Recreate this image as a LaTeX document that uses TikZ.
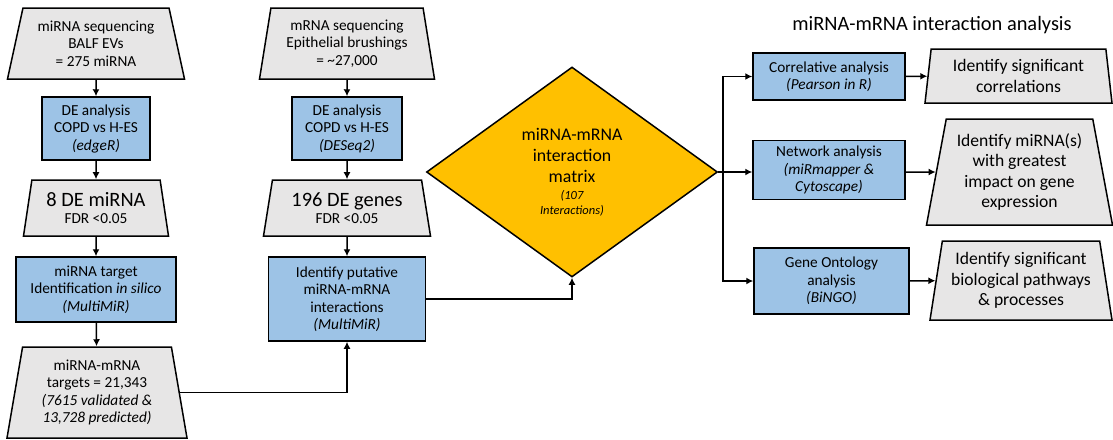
\documentclass[tikz,border=0pt]{standalone}
\usepackage{fontspec}
\setmainfont{Carlito}
\usetikzlibrary{shapes.geometric,arrows.meta}
\definecolor{datagray}{HTML}{E7E6E6}
\definecolor{stepblue}{HTML}{9DC3E6}
\definecolor{matrixgold}{HTML}{FFC000}

\begin{document}
\begin{tikzpicture}[x=1pt, y=-1pt,
    dataset/.style={trapezium, trapezium stretches body, draw=black,
        line width=1.5pt, fill=datagray, align=center, inner sep=1pt,
        font=\fontsize{15.3}{17.5}\selectfont},
    process/.style={rectangle, draw=black, line width=1.5pt, fill=stepblue,
        align=center, inner sep=1pt, font=\fontsize{15.3}{17.5}\selectfont},
    decision/.style={diamond, draw=black, line width=1.5pt, fill=matrixgold,
        align=center, inner sep=0pt, font=\fontsize{17.8}{21}\selectfont},
    result/.style={dataset, font=\fontsize{17.6}{20.5}\selectfont},
    method/.style={process, font=\fontsize{15.3}{17.5}\selectfont},
    edge/.style={line width=1.5pt, -},
    arrow/.style={line width=1.5pt, -{Latex[length=7pt,width=7pt]}}
]
    \useasboundingbox (0,0) rectangle (1113,439);

    % miRNA column
    \node[dataset, trapezium angle=72, minimum width=177, minimum height=71]
        (mirseq) at (96,43.5) {miRNA sequencing\\BALF EVs\\= 275 miRNA};
    \node[process, minimum width=108, minimum height=63]
        (de1) at (96,128.5) {DE analysis\\COPD vs H-ES\\\textit{(edgeR)}};
    \node[dataset, trapezium angle=76, minimum width=145, minimum height=56]
        (demir) at (96,208) {{\fontsize{20.4}{22}\selectfont 8 DE miRNA}\\[0pt]
        FDR <0.05};
    \node[process, minimum width=160, minimum height=65]
        (target) at (96,289.5) {miRNA target\\Identification \textit{in silico}\\\textit{(MultiMiR)}};
    \node[dataset, trapezium angle=77, minimum width=180, minimum height=91]
        (mirtargets) at (97,392.5) {miRNA-mRNA\\targets = 21,343\\\textit{(7615 validated \&}\\\textit{13,728 predicted)}};

    % mRNA column
    \node[dataset, trapezium angle=77, minimum width=175, minimum height=71]
        (mrnaseq) at (347,43.5) {mRNA sequencing\\Epithelial brushings\\= \textasciitilde27,000};
    \node[process, minimum width=110, minimum height=63]
        (de2) at (347,128.5) {DE analysis\\COPD vs H-ES\\\textit{(DESeq2)}};
    \node[dataset, trapezium angle=75, minimum width=167, minimum height=56]
        (degenes) at (347,208) {{\fontsize{20.4}{22}\selectfont 196 DE genes}\\[0pt]
        FDR <0.05};
    \node[process, minimum width=157, minimum height=84]
        (putative) at (347,299) {Identify putative\\miRNA-mRNA\\interactions\\\textit{(MultiMiR)}};

    % interaction matrix
    \node[decision, minimum width=291, minimum height=210]
        (mat) at (572,172) {miRNA-mRNA\\interaction\\matrix\\[-4pt]
        {\fontsize{12.5}{14}\selectfont\itshape (107}\\[-6pt]
        {\fontsize{12.5}{14}\selectfont\itshape Interactions)}};
    \coordinate (split) at (723,172);

    % interaction analysis
    \node[font=\fontsize{20.4}{24}\selectfont] (title) at (932,25) {miRNA-mRNA interaction analysis};
    \node[method, minimum width=152, minimum height=47]
        (corr) at (829,76.5) {Correlative analysis\\\textit{(Pearson in R)}};
    \node[method, minimum width=152, minimum height=59]
        (netw) at (829,170) {Network analysis\\\textit{(miRmapper \&}\\\textit{Cytoscape)}};
    \node[method, minimum width=155, minimum height=66]
        (gobox) at (831.5,281) {Gene Ontology\\analysis\\\textit{(BiNGO)}};
    \node[result, trapezium angle=80, minimum width=187, minimum height=54]
        (sigcorr) at (1018.5,76) {Identify significant\\correlations};
    \node[result, trapezium angle=76, minimum width=186, minimum height=106]
        (idmir) at (1019.5,172) {Identify miRNA(s)\\with greatest\\impact on gene\\expression};
    \node[result, trapezium angle=78, minimum width=182, minimum height=79]
        (sigpath) at (1021,280.5) {Identify significant\\biological pathways\\\& processes};

    \draw[arrow] (mirseq) -- (de1);
    \draw[arrow] (de1) -- (demir);
    \draw[arrow] (demir) -- (target);
    \draw[arrow] (target) -- (mirtargets);
    \draw[arrow] (mrnaseq) -- (de2);
    \draw[arrow] (de2) -- (degenes);
    \draw[arrow] (degenes) -- (putative);
    \draw[arrow] (mirtargets.east) -| (putative.south);
    \draw[arrow] (putative.east) -| (mat.south);
    \draw[edge] (mat.east) -- (split);
    \draw[arrow] (split) |- (corr.west);
    \draw[arrow] (split) -- (split -| netw.west);
    \draw[arrow] (split) |- (gobox.west);
    \draw[arrow] (corr) -- (sigcorr);
    \draw[arrow] (netw.east |- idmir) -- (idmir);
    \draw[arrow] (gobox) -- (sigpath);
\end{tikzpicture}
\end{document}
